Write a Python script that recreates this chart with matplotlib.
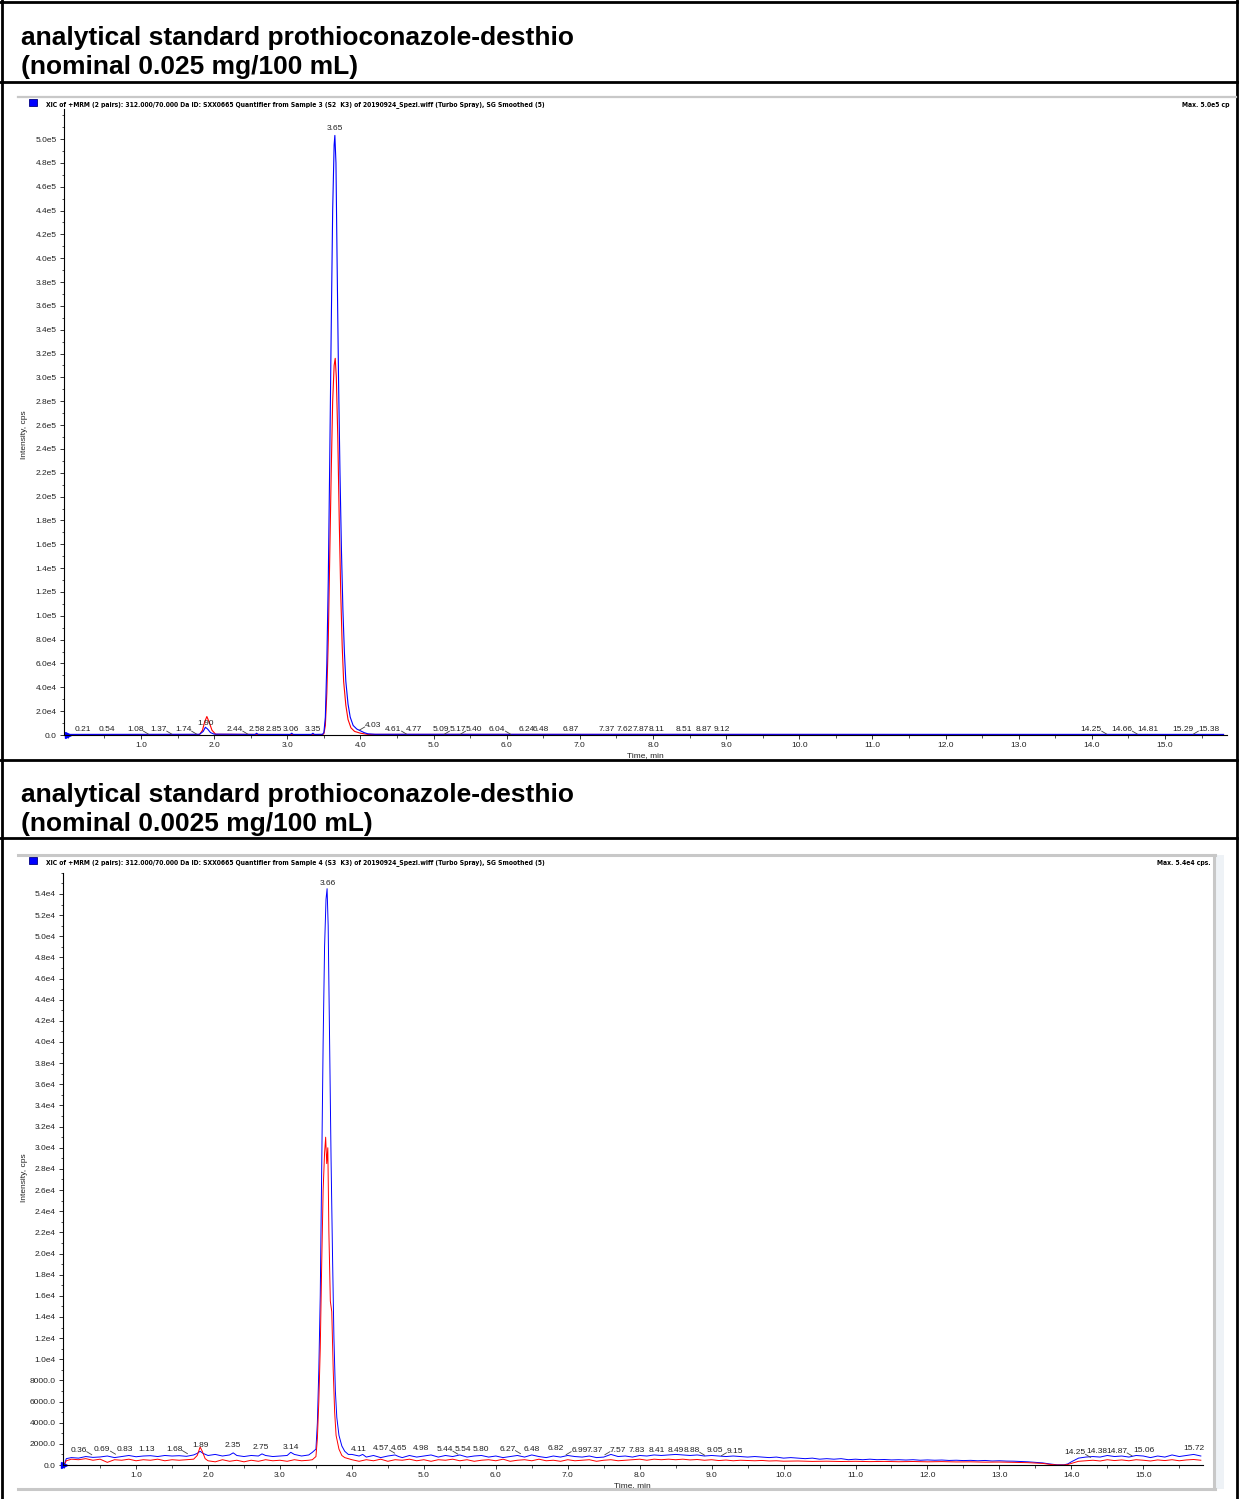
import matplotlib
matplotlib.use('Agg')
import matplotlib.pyplot as plt
from matplotlib.lines import Line2D
from matplotlib.patches import Rectangle
from matplotlib.ticker import MultipleLocator, FixedLocator, FuncFormatter

# ---- header texts
head_1 = 'analytical standard prothioconazole-desthio'
head_top = '(nominal 0.025 mg/100 mL)'
head_bot = '(nominal 0.0025 mg/100 mL)'
xic_top = ('XIC of +MRM (2 pairs): 312.000/70.000 Da ID: SXX0665 Quantifier from Sample 3 (S2  K3) '
           'of 20190924_Spezi.wiff (Turbo Spray), SG Smoothed (5)')
xic_bot = ('XIC of +MRM (2 pairs): 312.000/70.000 Da ID: SXX0665 Quantifier from Sample 4 (S3  K3) '
           'of 20190924_Spezi.wiff (Turbo Spray), SG Smoothed (5)')
max_top = 'Max. 5.0e5 cp'
max_bot = 'Max. 5.4e4 cps.'

# ---- upper chromatogram (0.025 mg/100 mL)
top_blue_t = [0.00, 1.80, 1.85, 1.88, 1.91, 1.95, 2.00, 2.56, 2.58, 2.60, 3.04, 3.06, 3.08, 3.33, 3.35, 3.37,
              3.48, 3.50, 3.52, 3.54, 3.56, 3.58, 3.60, 3.62, 3.64, 3.65, 3.665, 3.68, 3.70, 3.72, 3.74,
              3.76, 3.78, 3.80, 3.83, 3.86, 3.90, 3.95, 4.00, 4.05, 4.10, 4.20, 15.80]
top_blue_y = [500, 600, 3000, 6500, 5000, 2000, 700, 500, 1500, 500, 500, 1500, 500, 500, 1500, 500,
              600, 2000, 15000, 60000, 130000, 230000, 340000, 440000, 495000, 503000, 480000, 400000,
              300000, 220000, 155000, 105000, 70000, 45000, 26000, 15000, 8000, 5000, 3500, 2000, 1000,
              600, 500]
top_red_t = [0.00, 1.80, 1.84, 1.87, 1.90, 1.93, 1.97, 2.02, 3.48, 3.50, 3.52, 3.54, 3.56, 3.58, 3.60,
             3.62, 3.64, 3.655, 3.67, 3.69, 3.71, 3.73, 3.75, 3.77, 3.80, 3.83, 3.87, 3.92, 4.00, 4.10, 15.80]
top_red_y = [300, 400, 4000, 11000, 15500, 11000, 4000, 600, 300, 1000, 8000, 35000, 80000, 150000,
             220000, 280000, 310000, 316000, 300000, 250000, 180000, 120000, 75000, 45000, 25000, 13000,
             6000, 3000, 1500, 500, 300]
top_apex = '3.65'
top_labels = ['0.21', '0.54', '1.08', '1.37', '1.74', '1.90', '2.44', '2.58', '2.85', '3.06', '3.35',
              '4.03', '4.61', '4.77', '5.09', '5.17', '5.40', '6.04', '6.24', '6.48', '6.87', '7.37',
              '7.62', '7.87', '8.11', '8.51', '8.87', '9.12', '14.25', '14.66', '14.81', '15.29', '15.38']
top_label_x = [0.20, 0.53, 0.92, 1.24, 1.58, 1.88, 2.28, 2.58, 2.82, 3.05, 3.35, 4.17, 4.45, 4.73, 5.10,
               5.33, 5.55, 5.87, 6.28, 6.47, 6.87, 7.36, 7.61, 7.83, 8.05, 8.42, 8.70, 8.94, 13.99, 14.41,
               14.77, 15.24, 15.60]
top_label_y = [4500] * 5 + [10000] + [4500] * 5 + [8000] + [4500] * 21
top_leader = ['', '', 'r', 'r', 'r', '', 'r', '', '', '', '', 'l', 'r', '', '', 'l', 'l', 'r', '', '', '',
              '', '', '', '', '', '', '', 'r', 'r', '', '', 'l']

# ---- lower chromatogram (0.0025 mg/100 mL)
bot_blue_t = [0.00, 0.03, 0.10, 0.20, 0.30, 0.40, 0.50, 0.60, 0.70, 0.80, 0.90, 1.00, 1.10, 1.20, 1.30,
              1.40, 1.50, 1.60, 1.70, 1.80, 1.85, 1.89, 1.93, 2.00, 2.10, 2.20, 2.30, 2.35, 2.40, 2.50,
              2.60, 2.70, 2.75, 2.80, 2.90, 3.00, 3.10, 3.15, 3.20, 3.30, 3.40, 3.45,
              3.50, 3.52, 3.54, 3.56, 3.58, 3.60, 3.62, 3.64, 3.655, 3.67, 3.69, 3.71, 3.73, 3.75, 3.77,
              3.79, 3.82, 3.86, 3.90, 3.95,
              4.00, 4.10, 4.15, 4.20, 4.30, 4.40, 4.50, 4.60, 4.65, 4.70, 4.80, 4.90, 5.00, 5.10, 5.20,
              5.30, 5.40, 5.50, 5.60, 5.70, 5.80, 5.90, 6.00, 6.10, 6.20, 6.30, 6.40, 6.50, 6.60, 6.70,
              6.80, 6.90, 7.00, 7.10, 7.20, 7.30, 7.40, 7.50, 7.60, 7.70, 7.80, 7.90, 8.00, 8.10, 8.20,
              8.30, 8.40, 8.50, 8.60, 8.70, 8.80, 8.90, 9.00, 9.10, 9.20, 9.30, 9.40, 9.50, 9.60, 9.70,
              9.80, 9.90, 10.00, 10.10, 10.20, 10.30, 10.40, 10.50, 10.60, 10.70, 10.80, 10.90, 11.00,
              11.10, 11.20, 11.30, 11.40, 11.50, 11.60, 11.70, 11.80, 11.90, 12.00, 12.10, 12.20, 12.30,
              12.40, 12.50, 12.60, 12.70, 12.80, 12.90, 13.00, 13.10, 13.20, 13.30, 13.40, 13.50, 13.60,
              13.70, 13.80, 13.90, 13.95, 14.00, 14.10, 14.20, 14.30, 14.40, 14.50, 14.60, 14.70, 14.80,
              14.90, 15.00, 15.10, 15.20, 15.30, 15.40, 15.50, 15.60, 15.70, 15.80]
bot_blue_y = [0, 600, 700, 650, 800, 720, 760, 850, 700, 800, 900, 780, 850, 880, 800,
              900, 850, 880, 820, 950, 1100, 1300, 1100, 900, 1000, 850, 950, 1150, 900, 800,
              900, 850, 1050, 900, 800, 850, 900, 1200, 1000, 850, 950, 1200,
              1500, 4000, 9000, 16000, 28000, 40000, 49000, 53500, 54500, 51000, 40000, 29000, 20000,
              12000, 7000, 4500, 2800, 1800, 1300, 1000,
              1000, 850, 1000, 750, 900, 700, 850, 950, 800, 700, 900, 750, 850, 950, 750,
              900, 800, 950, 750, 850, 900, 750, 850, 700, 800, 900, 750, 950, 800, 700,
              850, 750, 900, 800, 750, 850, 700, 750, 1000, 800, 850, 750, 900, 850, 950,
              900, 950, 1000, 950, 900, 950, 850, 900, 850, 800, 850, 800, 750, 800, 750,
              700, 750, 650, 700, 650, 600, 650, 550, 600, 550, 600, 500, 550,
              500, 550, 500, 520, 480, 500, 470, 500, 450, 480, 450, 470, 430,
              450, 420, 440, 400, 430, 380, 400, 370, 360, 330, 300, 250, 200,
              100, 20, 20, 100, 300, 650, 750, 800, 750, 900, 800, 850, 750,
              900, 850, 700, 850, 750, 950, 800, 900, 1000, 850]
bot_red_t = [0.00, 0.03, 0.10, 0.20, 0.30, 0.40, 0.50, 0.60, 0.70, 0.80, 0.90, 1.00, 1.10, 1.20, 1.30,
             1.40, 1.50, 1.60, 1.70, 1.80, 1.85, 1.89, 1.92, 1.96, 2.00, 2.10, 2.20, 2.30, 2.40, 2.50,
             2.60, 2.70, 2.80, 2.90, 3.00, 3.10, 3.20, 3.30, 3.40, 3.45,
             3.50, 3.52, 3.54, 3.56, 3.58, 3.60, 3.62, 3.635, 3.65, 3.665, 3.68, 3.70, 3.72, 3.74, 3.76,
             3.78, 3.82, 3.86, 3.90,
             4.00, 4.10, 4.20, 4.30, 4.40, 4.50, 4.60, 4.70, 4.80, 4.90, 5.00, 5.10, 5.20, 5.30, 5.40,
             5.50, 5.60, 5.70, 5.80, 5.90, 6.00, 6.10, 6.20, 6.30, 6.40, 6.50, 6.60, 6.70, 6.80, 6.90,
             7.00, 7.10, 7.20, 7.30, 7.40, 7.50, 7.60, 7.70, 7.80, 7.90, 8.00, 8.10, 8.20, 8.30, 8.40,
             8.50, 8.60, 8.70, 8.80, 8.90, 9.00, 9.10, 9.20, 9.30, 9.40, 9.50, 9.60, 9.70, 9.80, 9.90,
             10.00, 10.20, 10.40, 10.60, 10.80, 11.00, 11.20, 11.40, 11.60, 11.80, 12.00, 12.20, 12.40,
             12.60, 12.80, 13.00, 13.20, 13.40, 13.60, 13.70, 13.80, 13.90, 13.95, 14.00, 14.10, 14.20,
             14.30, 14.40, 14.50, 14.60, 14.70, 14.80, 14.90, 15.00, 15.10, 15.20, 15.30, 15.40, 15.50,
             15.60, 15.70, 15.80]
bot_red_y = [0, 400, 550, 500, 600, 450, 550, 250, 500, 450, 550, 400, 500, 450, 550,
             400, 500, 450, 500, 550, 900, 1700, 1300, 600, 400, 300, 500, 350, 450, 300,
             450, 350, 500, 400, 450, 350, 500, 400, 450, 500,
             800, 2500, 6000, 11000, 19000, 26000, 29500, 31000, 28500, 30000, 22000, 15500, 14500,
             9000, 5000, 2800, 1500, 900, 700,
             500, 350, 500, 400, 550, 350, 500, 450, 550, 400, 500, 350, 500, 450, 550,
             400, 500, 350, 450, 500, 400, 550, 350, 450, 500, 400, 550, 400, 450, 350,
             500, 400, 450, 500, 350, 450, 500, 400, 450, 500, 550, 450, 550, 500, 550,
             500, 550, 480, 520, 450, 500, 420, 470, 400, 450, 420, 400, 430, 380, 400,
             360, 380, 340, 360, 330, 350, 320, 340, 310, 330, 300, 320, 290,
             300, 270, 280, 250, 220, 150, 60, 0, 0, 50, 150, 350, 400,
             450, 380, 500, 420, 480, 400, 500, 450, 380, 480, 420, 500, 400,
             480, 520, 450]
bot_apex = '3.66'
bot_labels = ['0.36', '0.69', '0.83', '1.13', '1.68', '1.89', '2.35', '2.75', '3.14', '4.11', '4.57',
              '4.65', '4.98', '5.44', '5.54', '5.80', '6.27', '6.48', '6.82', '6.99', '7.37', '7.57',
              '7.83', '8.41', '8.49', '8.88', '9.05', '9.15', '14.25', '14.38', '14.87', '15.06', '15.72']
bot_label_x = [0.20, 0.53, 0.84, 1.15, 1.53, 1.89, 2.34, 2.74, 3.15, 4.10, 4.41, 4.66, 4.96, 5.29, 5.54,
               5.79, 6.16, 6.50, 6.84, 7.16, 7.38, 7.70, 7.96, 8.24, 8.50, 8.72, 9.05, 9.32, 14.05, 14.36,
               14.63, 15.01, 15.70]
bot_label_y = [1400, 1450, 1500, 1500, 1500, 1850, 1850, 1650, 1700, 1500, 1550, 1550, 1550, 1450, 1500,
               1500, 1500, 1500, 1550, 1400, 1400, 1400, 1350, 1350, 1350, 1350, 1350, 1300, 1150, 1280,
               1280, 1400, 1550]
bot_leader = ['r', 'r', '', '', 'r', '', '', '', '', '', 'r', '', '', 'r', '', '', 'r', '', '', 'l', '',
              'l', '', '', '', 'r', '', 'l', 'r', '', 'r', '', '']

W, H = 1239, 1499
BLUE = '#0000ff'
RED = '#ff0000'
fig = plt.figure(figsize=(W / 100, H / 100), dpi=100)
plt.rcParams['font.family'] = ['Liberation Sans', 'DejaVu Sans']


def fx(px):
    return px / W


def fy(py):
    return 1 - py / H


def hline(y, x0, x1, color='black', lw=2.0):
    fig.add_artist(Line2D([fx(x0), fx(x1)], [fy(y), fy(y)], color=color, lw=lw))


def vline(x, y0, y1, color='black', lw=2.0):
    fig.add_artist(Line2D([fx(x), fx(x)], [fy(y0), fy(y1)], color=color, lw=lw))


# table grid
hline(1.5, 0, W)
hline(82, 0, W)
hline(760, 0, W)
hline(838, 0, W)
vline(2.5, 0, H)
vline(1236.5, 0, H)

# section headers
for y0, sub in ((45, head_top), (802, head_bot)):
    fig.text(fx(21), fy(y0), head_1, fontsize=19, weight='bold', va='baseline')
    fig.text(fx(21), fy(y0 + 29), sub, fontsize=19, weight='bold', va='baseline')

# chart frames (grey)
hline(97, 18, 1236, color='#c8c8c8', lw=1.6)
hline(855, 18, 1215, color='#c8c8c8', lw=2.2)
hline(1489, 18, 1215, color='#c8c8c8', lw=2.2)
vline(1214, 855, 1489, color='#c8c8c8', lw=2.2)
fig.add_artist(Rectangle((fx(1216), fy(1489)), fx(8), (1489 - 855) / H, color='#eef2f6', lw=0))


def sci_top(v, pos):
    if v == 0:
        return '0.0'
    e = 5 if v >= 1e5 else 4
    return f'{v / 10 ** e:.1f}e{e}'


def sci_bot(v, pos):
    if v < 1e4:
        return f'{v:.1f}'
    return f'{v / 1e4:.1f}e4'


def setup(ax, ymax, ystep, yminor, fmt):
    ax.set_ylim(0, ymax)
    for s in ('top', 'right'):
        ax.spines[s].set_visible(False)
    for s in ('left', 'bottom'):
        ax.spines[s].set_linewidth(0.8)
    ax.xaxis.set_major_locator(FixedLocator([float(i) for i in range(1, 16)]))
    ax.xaxis.set_minor_locator(MultipleLocator(0.5))
    ax.xaxis.set_major_formatter(FuncFormatter(lambda v, p: f'{v:.1f}'))
    ax.yaxis.set_major_locator(FixedLocator([i * ystep for i in range(int(ymax / ystep) + 1)
                                             if i * ystep <= ymax * 0.985]))
    ax.yaxis.set_minor_locator(MultipleLocator(yminor))
    ax.yaxis.set_major_formatter(FuncFormatter(fmt))
    ax.tick_params(which='major', length=3, width=0.7, labelsize=6, pad=2, colors='#333333',
                   labelcolor='#222222')
    ax.tick_params(which='minor', length=1.8, width=0.6, colors='#333333')
    ax.set_xlabel('Time, min', fontsize=6, labelpad=2, color='#222222')
    ax.patch.set_alpha(0)


def labels(ax, texts, xs, ys, leaders):
    rend = fig.canvas.get_renderer()
    for t, x, y, ld in zip(texts, xs, ys, leaders):
        tx = ax.text(x, y, t, fontsize=6, ha='center', va='center', color='#222222')
        if ld:
            bb = tx.get_window_extent(rend)
            if ld == 'r':
                p0 = (bb.x1, bb.y0 + 2)
                p1 = (bb.x1 + 5, bb.y0 - 1)
            else:
                p0 = (bb.x0, bb.y0 + 2)
                p1 = (bb.x0 - 5, bb.y0 - 1)
            inv = ax.transData.inverted()
            d0 = inv.transform(p0)
            d1 = inv.transform(p1)
            ax.plot([d0[0], d1[0]], [d0[1], d1[1]], color='#444444', lw=0.6, clip_on=False)


# ---- upper chart
ax1 = fig.add_axes([fx(63.5), fy(735), fx(1227.2) - fx(63.5), (735 - 109.2) / H])
ax1.set_xlim(-0.06, 15.85)
setup(ax1, 5.25e5, 2e4, 1e4, sci_top)
ax1.plot(top_red_t, top_red_y, color=RED, lw=0.8)
ax1.plot(top_blue_t, top_blue_y, color=BLUE, lw=0.8)
ax1.plot([0], [0], marker='>', color=BLUE, ms=4, clip_on=False)
ax1.text(3.65, 5.06e5, top_apex, fontsize=6, ha='center', va='bottom', color='#222222')
labels(ax1, top_labels, top_label_x, top_label_y, top_leader)
fig.text(fx(25), fy(435), 'Intensity, cps', rotation=90, fontsize=6, ha='center', va='center',
         color='#222222')

# ---- lower chart
ax2 = fig.add_axes([fx(62.7), fy(1465), fx(1203) - fx(62.7), (1465 - 872.8) / H])
ax2.set_xlim(-0.02, 15.83)
setup(ax2, 5.6e4, 2000, 1000, sci_bot)
ax2.plot(bot_blue_t, bot_blue_y, color=BLUE, lw=0.7)
ax2.plot(bot_red_t, bot_red_y, color=RED, lw=0.7)
ax2.plot([0], [0], marker='>', color=BLUE, ms=4, clip_on=False)
ax2.text(3.66, 5.5e4, bot_apex, fontsize=6, ha='center', va='center', color='#222222')
labels(ax2, bot_labels, bot_label_x, bot_label_y, bot_leader)
fig.text(fx(25), fy(1178), 'Intensity, cps', rotation=90, fontsize=6, ha='center', va='center',
         color='#222222')

# legend squares and XIC titles (narrow bold)
for ysq, txt, mx, mt in ((102, xic_top, 1230, max_top), (860, xic_bot, 1211, max_bot)):
    fig.add_artist(Rectangle((fx(29), fy(ysq + 4)), fx(8), 7 / H, facecolor=BLUE,
                             edgecolor='#000080', lw=0.6))
    fig.text(fx(46), fy(ysq + 3), txt, fontsize=4.9, weight='bold', family='DejaVu Sans',
             stretch='condensed', va='center')
    fig.text(fx(mx), fy(ysq + 3), mt, fontsize=4.9, weight='bold', family='DejaVu Sans',
             stretch='condensed', va='center', ha='right')

fig.savefig('out.png', dpi=100)
